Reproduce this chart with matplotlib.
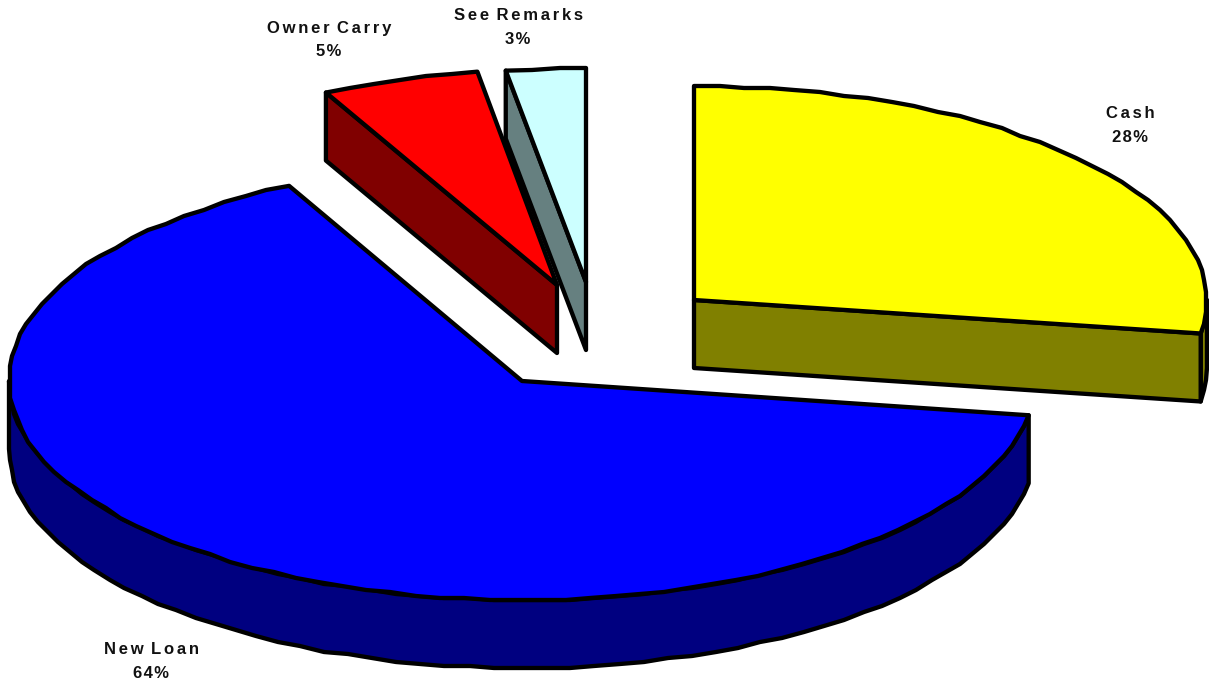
import numpy as np
import matplotlib
matplotlib.use('Agg')
import matplotlib.pyplot as plt
from matplotlib.patches import Polygon

plt.rcParams['font.family'] = ['Liberation Sans', 'DejaVu Sans']

labels = ['Cash', 'New Loan', 'Owner Carry', 'See Remarks']
pct_labels = ['28%', '64%', '5%', '3%']
shares = [27.5, 65.0, 5.0, 2.5]

top_colors = ['#FFFF00', '#0000FF', '#FF0000', '#CCFFFF']
side_colors = ['#808000', '#000080', '#800000', '#668080']

# pie layout, in pixels
centers = [(694, 300), (522, 381), (557, 285), (586, 282)]
radius_x = [513, 513, 509, 513]
radius_y = [214, 219, 216, 214]
depth = 68
label_pos = [(1130, 113), (151, 648), (329, 27), (518, 15)]
line_w = 3.1
grid = 2.0   # the source was drawn on a coarse grid, edges look stepped


def rim(cx, cy, rx, ry, a0, a1):
    n = max(2, int(abs(a1 - a0) / 2.8) + 1)
    t = np.radians(np.linspace(a0, a1, n))
    x = cx + rx * np.cos(t)
    y = cy - ry * np.sin(t)
    x[1:-1] = np.round(x[1:-1] / grid) * grid
    y[1:-1] = np.round(y[1:-1] / grid) * grid
    return np.column_stack([x, y])


fig = plt.figure(figsize=(12.09, 6.86), dpi=100)
ax = fig.add_axes([0, 0, 1, 1])
ax.set_xlim(0, 1209)
ax.set_ylim(686, 0)
ax.axis('off')


def poly(pts, color, z):
    ax.add_patch(Polygon(pts, closed=True, facecolor=color, edgecolor='black',
                         linewidth=line_w, joinstyle='round', zorder=z))


# slices go clockwise from 12 o'clock
edges = 90 - 3.6 * np.cumsum([0] + shares)
# which cut face looks towards the viewer: 'start' is the clockwise end
cut_face = ['start', None, 'end', 'end']
down = np.array([0, depth])

for z, i in enumerate([3, 2, 0, 1]):
    a_start, a_end = edges[i + 1], edges[i]
    cx, cy = centers[i]
    rx, ry = radius_x[i], radius_y[i]
    arc = rim(cx, cy, rx, ry, a_start, a_end)
    apex = np.array([cx, cy])
    base = 2 + z * 2

    # outer wall, only the front half of the ellipse shows
    lo = max(a_start, -180)
    hi = min(a_end, 0)
    if hi > lo:
        wall = rim(cx, cy, rx, ry, lo, hi)
        poly(np.vstack([wall, (wall + down)[::-1]]), side_colors[i], base)

    if cut_face[i] == 'start':
        poly([apex, arc[0], arc[0] + down, apex + down], side_colors[i], base)
    elif cut_face[i] == 'end':
        poly([apex, arc[-1], arc[-1] + down, apex + down], side_colors[i], base)

    poly(np.vstack([apex, arc]), top_colors[i], base + 1)

gap = '\u200a\u200a'
for name, pct, (lx, ly) in zip(labels, pct_labels, label_pos):
    spaced = '\u200a \u200a'.join(gap.join(w) for w in name.split(' '))
    ax.text(lx, ly + 1, spaced, ha='center', va='center', fontsize=12,
            fontweight='bold', color='#111111', zorder=20)
    ax.text(lx, ly + 25, '\u200a'.join(pct), ha='center', va='center',
            fontsize=12, fontweight='bold', color='#111111', zorder=20)

fig.savefig('out.png', dpi=100)
